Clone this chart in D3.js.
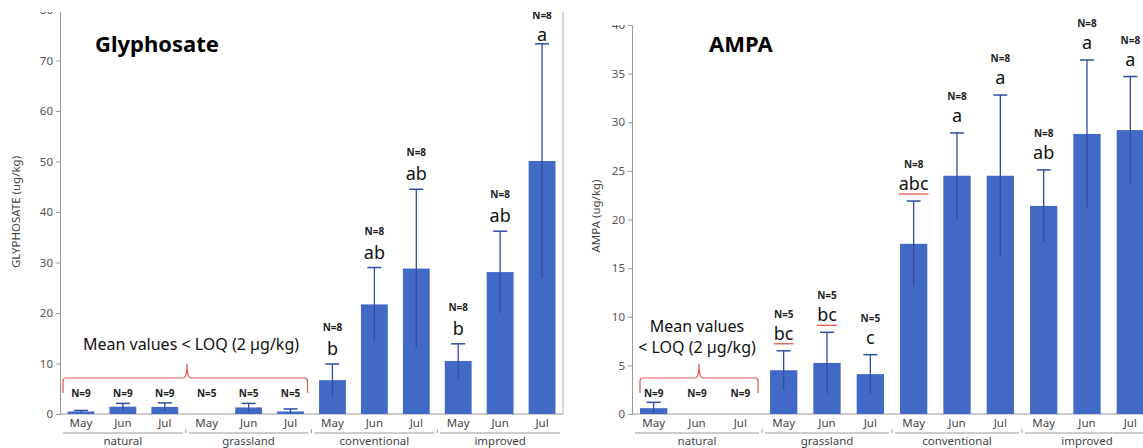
<!DOCTYPE html>
<html><head><meta charset="utf-8">
<script src="https://cdn.jsdelivr.net/npm/d3@7"></script>
<style>html,body{margin:0;padding:0;background:#fff;}svg{display:block;font-family:"Noto Sans",sans-serif;}</style>
</head><body>
<svg id="chart" width="1143" height="448"></svg>
<script>
const months = ["May","Jun","Jul"];
const groups = ["natural","grassland","conventional","improved"];
const categories = groups.flatMap(g => months.map(m => g + "|" + m));

const glyMean = [0.5, 1.45, 1.4, 0, 1.3, 0.5, 6.7, 21.7, 28.8, 10.5, 28.1, 50.1];
const glyErr  = [0.2, 0.65, 0.8, 0, 0.8, 0.5, 3.2, 7.3, 15.7, 3.4, 8.1, 23.2];
const glyN    = ["N=9","N=9","N=9","N=5","N=5","N=5","N=8","N=8","N=8","N=8","N=8","N=8"];
const glyLetters = ["","","","","","","b","ab","ab","b","ab","a"];
const glyTicks = [0,10,20,30,40,50,60,70,80];

const ampaMean = [0.6, 0, 0, 4.5, 5.25, 4.1, 17.5, 24.5, 24.5, 21.4, 28.8, 29.2];
const ampaErr  = [0.6, 0, 0, 2.0, 3.15, 2.0, 4.4, 4.4, 8.3, 3.7, 7.6, 5.5];
const ampaN    = ["N=9","N=9","N=9","N=5","N=5","N=5","N=8","N=8","N=8","N=8","N=8","N=8"];
const ampaLetters = ["","","","bc","bc","c","abc","a","a","ab","a","a"];
const ampaUnderlined = ["bc","abc"];
const ampaTicks = [0,5,10,15,20,25,30,35,40];

const svg = d3.select("#chart");
const BAR = "#4169c6", ERR = "#2f4da3", RED = "#e0564c", AX = "#9a9a9a";

function panel(o) {
  const g = svg.append("g");
  const x = d3.scaleBand().domain(categories).range([o.x0, o.x1]).paddingInner(o.pad).paddingOuter(o.pad/2);
  const y = d3.scaleLinear().domain([0, o.yMax]).range([414, o.yTop]);
  const ya = g.append("g").attr("transform", `translate(${o.x0},0)`)
    .call(d3.axisLeft(y).tickValues(o.ticks).tickSize(4).tickPadding(3));
  ya.select(".domain").attr("stroke", AX);
  ya.selectAll(".tick line").attr("stroke", AX);
  ya.selectAll(".tick text").attr("fill", "#555").style("font-size", "11.5px").style("font-family", "Noto Sans");
  g.append("line").attr("x1", o.x0).attr("x2", o.x1).attr("y1", 414).attr("y2", 414).attr("stroke", AX);
  if (o.frameRight) g.append("line").attr("x1", o.x1).attr("x2", o.x1).attr("y1", y(o.yMax)).attr("y2", 414).attr("stroke", "#b0b0b0");
  g.selectAll("rect.bar").data(o.mean).join("rect").attr("class","bar")
    .attr("x", (d,i) => x(categories[i])).attr("width", x.bandwidth())
    .attr("y", d => y(d)).attr("height", d => 414 - y(d)).attr("fill", BAR);
  o.mean.forEach((m, i) => {
    const e = o.err[i];
    if (e <= 0) return;
    const cx = x(categories[i]) + x.bandwidth()/2;
    g.append("line").attr("x1", cx).attr("x2", cx).attr("y1", y(Math.max(0, m - e))).attr("y2", y(m + e)).attr("stroke", ERR).attr("stroke-width", 1.3);
    g.append("line").attr("x1", cx - 7).attr("x2", cx + 7).attr("y1", y(m + e)).attr("y2", y(m + e)).attr("stroke", ERR).attr("stroke-width", 1.5);
  });
  o.mean.forEach((m, i) => {
    const cx = x(categories[i]) + x.bandwidth()/2;
    if (o.letters[i]) {
      let ly = y(m + o.err[i]) - o.letOff;
      const ny = Math.max(19, ly - o.nOff);
      ly = Math.max(ly, ny + 22);
      const t = g.append("text").attr("x", cx).attr("y", ly).attr("text-anchor","middle")
        .style("font-size", "18px").attr("fill", "#111").text(o.letters[i]);
      if (o.underlined && o.underlined.includes(o.letters[i])) {
        const w = t.node().getComputedTextLength();
        g.append("line").attr("x1", cx - w/2).attr("x2", cx + w/2).attr("y1", ly + 4).attr("y2", ly + 4).attr("stroke", RED).attr("stroke-width", 1.3);
      }
      g.append("text").attr("x", cx).attr("y", ny).attr("text-anchor","middle")
        .style("font-size", "10px").style("font-weight","bold").attr("fill", "#222").text(o.n[i]);
    } else {
      g.append("text").attr("x", cx).attr("y", 397).attr("text-anchor","middle")
        .style("font-size", "10px").style("font-weight","bold").attr("fill", "#222").text(o.n[i]);
    }
  });
  categories.forEach((c, i) => {
    const cx = x(c) + x.bandwidth()/2;
    g.append("text").attr("x", cx).attr("y", 427).attr("text-anchor","middle")
      .style("font-size", "11.5px").attr("fill", "#444").text(months[i % 3]);
  });
  const step = x.step();
  groups.forEach((gr, gi) => {
    const a = x(categories[gi*3]) - (step - x.bandwidth())/2;
    const b = a + 3*step;
    g.append("line").attr("x1", a + 3).attr("x2", b - 3).attr("y1", 433).attr("y2", 433).attr("stroke", AX);
    if (gi > 0) g.append("line").attr("x1", a).attr("x2", a).attr("y1", 429).attr("y2", 433).attr("stroke", AX);
    g.append("text").attr("x", (a + b)/2).attr("y", 445).attr("text-anchor","middle")
      .style("font-size", "11.5px").attr("fill", "#444").text(gr);
  });
  const bx0 = x(categories[0]) - (step - x.bandwidth())/2 + o.bIn;
  const bx1 = x(categories[o.bEnd]) + x.bandwidth() + (step - x.bandwidth())/2 - 4;
  const bc = o.bMid;
  const by = 378;
  const p = d3.path();
  p.moveTo(bx0, 393); p.lineTo(bx0, by + 3); p.quadraticCurveTo(bx0, by, bx0 + 3, by);
  p.lineTo(bc - 4, by); p.quadraticCurveTo(bc, by, bc, by - 14); p.quadraticCurveTo(bc, by, bc + 4, by);
  p.lineTo(bx1 - 3, by); p.quadraticCurveTo(bx1, by, bx1, by + 3); p.lineTo(bx1, 393);
  g.append("path").attr("d", p.toString()).attr("fill","none").attr("stroke", RED).attr("stroke-width", 1.2);
  o.note.forEach((line, li) => {
    g.append("text").attr("x", o.noteX).attr("y", o.noteY + li*21).attr("text-anchor","middle")
      .style("font-size", "16px").attr("fill", "#111").text(line);
  });
  g.append("text").attr("x", o.titleX).attr("y", 52).style("font-size", "22px").style("font-weight","bold").attr("fill","#000").text(o.title);
  g.append("text").attr("transform", `translate(${o.ylx},${o.yly}) rotate(-90)`).attr("text-anchor","middle")
    .style("font-size", "11.5px").attr("fill", "#444").text(o.ylabel);
  return g;
}

panel({x0: 60, x1: 563, yMax: 80, yTop: 10, ticks: glyTicks, pad: 0.36, mean: glyMean, err: glyErr, n: glyN,
  letters: glyLetters, letOff: 9, nOff: 24, frameRight: true, bIn: 3, bEnd: 5, bMid: 187,
  note: ["Mean values < LOQ (2 µg/kg)"], noteX: 191, noteY: 350,
  title: "Glyphosate", titleX: 95, ylabel: "GLYPHOSATE (ug/kg)", ylx: 20, yly: 212});

panel({x0: 632, x1: 1152, yMax: 40, yTop: 25, ticks: ampaTicks, pad: 0.37, mean: ampaMean, err: ampaErr, n: ampaN,
  letters: ampaLetters, underlined: ampaUnderlined, letOff: 12, nOff: 21, frameRight: false, bIn: 8, bEnd: 2, bMid: 699,
  note: ["Mean values", "< LOQ (2 µg/kg)"], noteX: 697, noteY: 332,
  title: "AMPA", titleX: 709, ylabel: "AMPA (ug/kg)", ylx: 600, yly: 216});

svg.append("rect").attr("x",0).attr("y",0).attr("width",1143).attr("height",12).attr("fill","#fff");
svg.append("rect").attr("x",600).attr("y",0).attr("width",30).attr("height",25).attr("fill","#fff");
</script>
</body></html>
